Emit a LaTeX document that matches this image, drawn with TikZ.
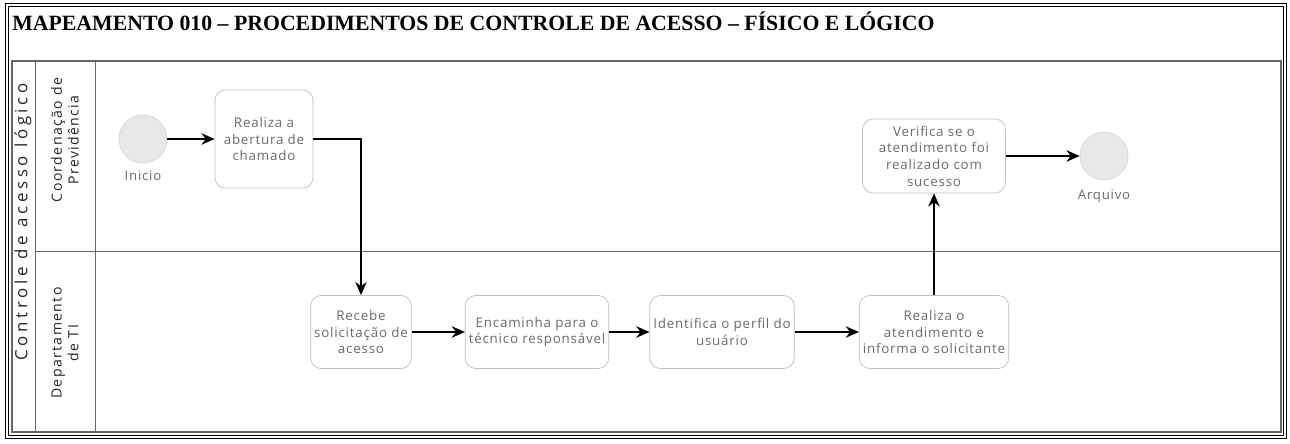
\documentclass[tikz,border=0pt]{standalone}
\usepackage{fontspec}
\newfontfamily\titlefont{Liberation Serif}
\newfontfamily\poolfont[LetterSpace=22]{Open Sans}
\newfontfamily\lanefont[LetterSpace=10]{Open Sans}
\newfontfamily\taskfont[LetterSpace=6]{Open Sans}
\usetikzlibrary{arrows.meta}
\definecolor{framegray}{gray}{0.4}
\definecolor{boxgray}{gray}{0.75}
\definecolor{textgray}{gray}{0.42}
\definecolor{eventgray}{gray}{0.91}

\begin{document}
\begin{tikzpicture}[x=0.02cm, y=-0.02cm,
  task/.style={draw=boxgray, rounded corners=6pt, fill=white, align=center,
    text=textgray, font=\taskfont\fontsize{7.6}{9.5}\selectfont, inner sep=2pt},
  event/.style={circle, fill=eventgray, draw=eventgray!92!black,
    minimum size=0.96cm, inner sep=0pt},
  evlabel/.style={text=textgray, font=\taskfont\fontsize{7.5}{9}\selectfont},
  flow/.style={line width=1.2pt, -{Stealth[length=7.5pt,width=6.5pt]}},
  lane/.style={rotate=90, align=center, text=black!85,
    font=\lanefont\fontsize{8}{9.5}\selectfont}]
\useasboundingbox (0,0) rectangle (1290,443);
% moldura e titulo
\draw[double, double distance=1.2pt, line width=0.5pt] (7,5) rectangle (1285,437);
\node[anchor=base west, inner sep=0pt,
  font=\titlefont\bfseries\fontsize{12.4}{14}\selectfont] (titulo) at (12,30)
  {MAPEAMENTO 010 – PROCEDIMENTOS DE CONTROLE DE ACESSO – FÍSICO E LÓGICO};
% piscina e raias
\draw[framegray, line width=0.6pt] (12,61) rectangle (1281,432);
\draw[framegray] (35,61) -- (35,432);
\draw[framegray] (95,61) -- (95,432);
\draw[framegray] (35,251) -- (1281,251);
\node[lane, font=\poolfont\fontsize{9.6}{10}\selectfont] (pool) at (23,222) {Controle de acesso lógico};
\node[lane] (coord) at (65,140) {Coordenação de\\Previdência};
\node[lane] (dti) at (65,343) {Departamento\\de TI};
% eventos e tarefas
\node[event, label={[evlabel, label distance=1pt]below:Inicio}] (inicio) at (143,139) {};
\node[task, minimum width=1.96cm, minimum height=1.96cm] (abre) at (264,139)
  {Realiza a\\abertura de\\chamado};
\node[task, minimum width=1.94cm, minimum height=1.46cm] (rec) at (361,332)
  {Recebe\\solicitação de\\acesso};
\node[task, minimum width=2.68cm, minimum height=1.46cm] (enc) at (537,332)
  {Encaminha para o\\técnico responsável};
\node[task, minimum width=2.78cm, minimum height=1.46cm] (ide) at (722,332)
  {Identifica o perfil do\\usuário};
\node[task, minimum width=2.7cm, minimum height=1.46cm] (ate) at (934,332)
  {Realiza o\\atendimento e\\informa o solicitante};
\node[task, minimum width=2.86cm, minimum height=1.48cm] (ver) at (934,156)
  {Verifica se o\\atendimento foi\\realizado com\\sucesso};
\node[event, label={[evlabel, label distance=2pt]below:Arquivo}] (arq) at (1104,156) {};
% fluxos
\draw[flow] (inicio) -- (abre);
\draw[flow] (abre) -| (rec);
\draw[flow] (rec) -- (enc);
\draw[flow] (enc) -- (ide);
\draw[flow] (ide) -- (ate);
\draw[flow] (ate) -- (ver);
\draw[flow] (ver) -- (arq);
\end{tikzpicture}
\end{document}
